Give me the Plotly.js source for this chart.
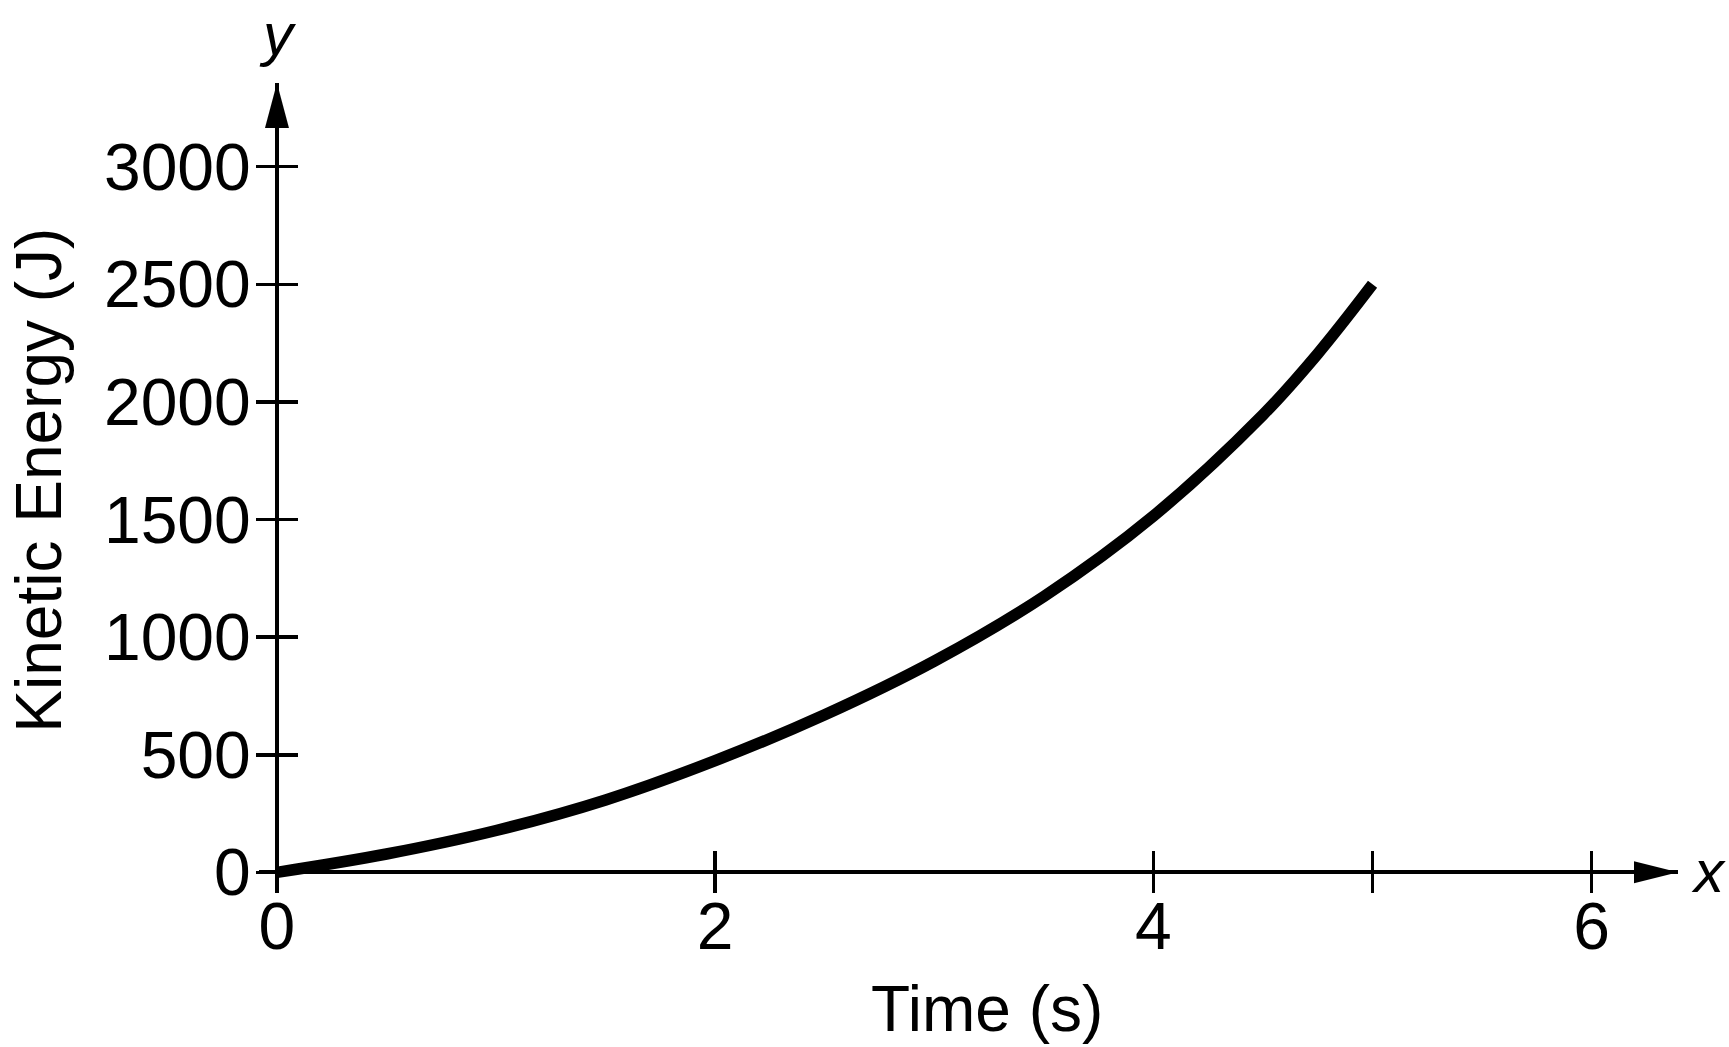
<!DOCTYPE html>
<html>
<head>
<meta charset="utf-8">
<script src="https://cdn.plot.ly/plotly-3.0.1.min.js"></script>
<style>
  html, body { margin: 0; padding: 0; background: #fff; }
  #chart { width: 1729px; height: 1047px; }
</style>
</head>
<body>
<div id="chart"></div>
<script>
// values
var timeS = [0, 0.5, 1, 1.5, 2, 2.5, 3, 3.5, 4, 4.5, 4.75, 5];
var kineticJ = [0, 78, 178, 308, 475, 670, 898, 1173, 1515, 1945, 2205, 2500];

var xTickVals = [0, 2, 4, 5, 6];
var xTickText = ['0', '2', '4', '', '6'];
var yTickVals = [0, 500, 1000, 1500, 2000, 2500, 3000];

var xRange = [-0.082, 6.394];
var yRange = [-75, 3356];

var fontFam = '"Liberation Sans", Arial, Helvetica, sans-serif';

// where the axes cross zero, as a fraction of the plot area
var xPos = (0 - yRange[0]) / (yRange[1] - yRange[0]);
var yPos = (0 - xRange[0]) / (xRange[1] - xRange[0]);

var curve = {
    x: timeS,
    y: kineticJ,
    type: 'scatter',
    mode: 'lines',
    line: { color: '#000', width: 11.5, shape: 'spline', smoothing: 1 },
    hoverinfo: 'skip',
    showlegend: false
};

var baseAxis = {
    showgrid: false,
    zeroline: false,
    showline: true,
    linecolor: '#000',
    linewidth: 4,
    ticks: 'outside',
    ticklen: 19,
    tickwidth: 3.5,
    tickcolor: '#000',
    tickmode: 'array',
    anchor: 'free',
    fixedrange: true,
    tickfont: { family: fontFam, size: 66, color: '#000' }
};

var layout = {
    width: 1729,
    height: 1047,
    paper_bgcolor: '#fff',
    plot_bgcolor: 'rgba(0,0,0,0)',
    margin: { l: 259, r: 51, t: 83, b: 157 },
    showlegend: false,
    font: { family: fontFam, color: '#000' },
    xaxis: Object.assign({}, baseAxis, {
        range: xRange,
        position: xPos,
        tickvals: xTickVals,
        ticktext: xTickText,
        ticklabelstandoff: -24
    }),
    // second copy of each axis just to draw the inner half of the crossing ticks
    xaxis2: Object.assign({}, baseAxis, {
        range: xRange,
        overlaying: 'x',
        position: xPos,
        ticks: 'inside',
        tickvals: xTickVals,
        showticklabels: false
    }),
    yaxis: Object.assign({}, baseAxis, {
        range: yRange,
        position: yPos,
        tickvals: yTickVals,
        ticklabelstandoff: -8
    }),
    yaxis2: Object.assign({}, baseAxis, {
        range: yRange,
        overlaying: 'y',
        position: yPos,
        ticks: 'inside',
        tickvals: yTickVals,
        showticklabels: false
    }),
    shapes: [
        // arrow heads, sized in pixels, tips at the ends of the axes
        {
            type: 'path', xref: 'x', yref: 'y',
            xsizemode: 'pixel', ysizemode: 'pixel',
            xanchor: xRange[1], yanchor: 0,
            path: 'M0,0 L-44,11 L-44,-11 Z',
            fillcolor: '#000', line: { width: 0 }
        },
        {
            type: 'path', xref: 'x', yref: 'y',
            xsizemode: 'pixel', ysizemode: 'pixel',
            xanchor: 0, yanchor: yRange[1],
            path: 'M0,0 L-12,-45 L12,-45 Z',
            fillcolor: '#000', line: { width: 0 }
        }
    ],
    annotations: [
        {
            text: 'Time (s)', xref: 'paper', yref: 'paper',
            x: 0.513, y: -0.1475, xanchor: 'center', yanchor: 'middle',
            showarrow: false, font: { family: fontFam, size: 64, color: '#000' }
        },
        {
            text: 'Kinetic Energy (J)', xref: 'paper', yref: 'paper',
            x: -0.1553, y: 0.508, xanchor: 'center', yanchor: 'middle',
            textangle: -90,
            showarrow: false, font: { family: fontFam, size: 64, color: '#000' }
        },
        {
            text: '<i>y</i>', xref: 'paper', yref: 'paper',
            x: 0.0134, y: 1.06, xanchor: 'center', yanchor: 'middle',
            showarrow: false, font: { family: fontFam, size: 60, color: '#000' }
        },
        {
            text: '<i>x</i>', xref: 'paper', yref: 'paper',
            x: 1.0218, y: 0.0235, xanchor: 'center', yanchor: 'middle',
            showarrow: false, font: { family: fontFam, size: 60, color: '#000' }
        }
    ]
};

// empty traces so the overlay axes get drawn
var ghost = {
    x: [], y: [], type: 'scatter', mode: 'lines',
    xaxis: 'x2', yaxis: 'y2', hoverinfo: 'skip', showlegend: false
};

Plotly.newPlot('chart', [curve, ghost], layout, { staticPlot: true, displayModeBar: false });
</script>
</body>
</html>
